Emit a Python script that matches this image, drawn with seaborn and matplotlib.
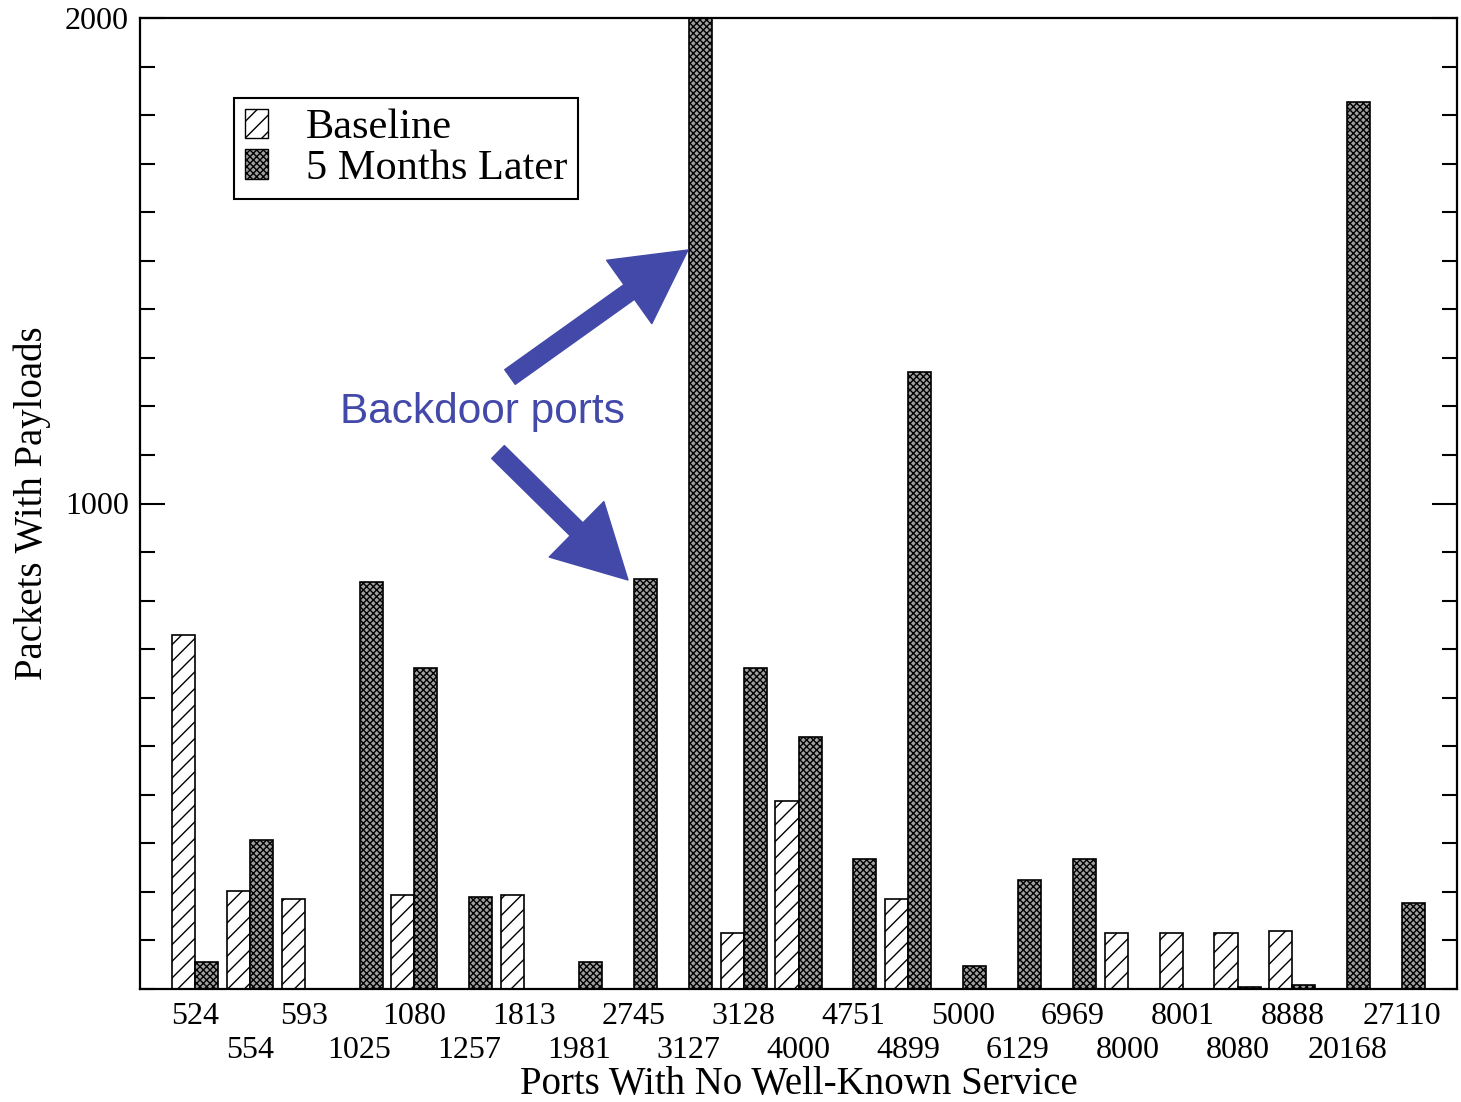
import numpy as np
import pandas as pd
import matplotlib
matplotlib.use('Agg')
import matplotlib.pyplot as plt
import matplotlib.patches as mpatches
from matplotlib.ticker import MultipleLocator
import seaborn as sns

ports = ['524', '554', '593', '1025', '1080', '1257', '1813', '1981', '2745',
         '3127', '3128', '4000', '4751', '4899', '5000', '6129', '6969',
         '8000', '8001', '8080', '8888', '20168', '27110']
baseline = [729, 202, 185, 0, 194, 0, 194, 0, 0,
            0, 115, 387, 0, 185, 0, 0, 0,
            115, 115, 115, 119, 0, 0]
later = [56, 307, 0, 838, 661, 190, 0, 56, 844,
         2000, 661, 519, 268, 1271, 47, 225, 268,
         0, 0, 4, 8, 1827, 177]
series = ['Baseline', '5 Months Later']

df = pd.DataFrame({
    'port': ports * 2,
    'packets': baseline + later,
    'period': [series[0]] * len(ports) + [series[1]] * len(ports),
})

plt.rcParams['font.family'] = ['Liberation Serif', 'DejaVu Serif']
plt.rcParams['hatch.linewidth'] = 1.0

fig = plt.figure(figsize=(14.61, 11.02), dpi=100)
ax = fig.add_axes([140 / 1461, 1 - 989 / 1102, 1317 / 1461, 971 / 1102])

sns.barplot(data=df, x='port', y='packets', hue='period', order=ports,
            hue_order=series, width=0.84, ax=ax, legend=False)

dark = '#a0a0a0'
# baseline: white with diagonal hatching; later: dense gray checker
for bar in ax.containers[0]:
    bar.set_facecolor('white')
    bar.set_edgecolor('black')
    bar.set_hatch('//')
    bar.set_linewidth(1.2)
for bar in ax.containers[1]:
    bar.set_facecolor(dark)
    bar.set_edgecolor('black')
    bar.set_hatch('xxxxx')
    bar.set_linewidth(1.2)

ax.set_xlim(-1, len(ports))
ax.set_ylim(0, 2000)

# two staggered rows of port labels: even ones on major ticks, odd ones on minor ticks
idx = np.arange(len(ports))
ax.set_xticks(idx[::2])
ax.set_xticklabels(ports[::2], fontsize=23)
ax.set_xticks(idx[1::2], minor=True)
ax.set_xticklabels(ports[1::2], minor=True, fontsize=23)
ax.tick_params(axis='x', which='major', length=0, pad=9)
ax.tick_params(axis='x', which='minor', length=0, pad=34)

ax.set_yticks([1000, 2000])
ax.set_yticklabels(['1000', '2000'], fontsize=23)
ax.yaxis.set_minor_locator(MultipleLocator(100))
ax.tick_params(axis='y', which='major', direction='in', length=18, width=1.5,
               left=True, right=True, pad=8)
ax.tick_params(axis='y', which='minor', direction='in', length=11, width=1.5,
               left=True, right=True)

for s in ax.spines.values():
    s.set_linewidth(1.6)

ax.set_xlabel('Ports With No Well-Known Service', fontsize=28)
ax.xaxis.set_label_coords(0.5, -0.079)
ax.set_ylabel('Packets With Payloads', fontsize=28, labelpad=10)

handles = [mpatches.Patch(facecolor='white', edgecolor='black', hatch='//', label=series[0]),
           mpatches.Patch(facecolor=dark, edgecolor='black', hatch='xxxxx', label=series[1])]
leg = ax.legend(handles=handles, loc='upper left', bbox_to_anchor=(0.0714, 0.9176),
                fontsize=30.5, fancybox=False, edgecolor='black', framealpha=1,
                handlelength=0.55, handleheight=0.7, handletextpad=0.9,
                labelspacing=0.05, borderpad=0.25, borderaxespad=0)
leg.get_frame().set_linewidth(1.5)

blue = '#4349a8'
fig.text(340 / 1461, 1 - 412 / 1102, 'Backdoor ports', color=blue, fontsize=30.5,
         family=['Liberation Sans', 'DejaVu Sans'], va='center', ha='left')
arrow_style = 'simple,head_length=5.2,head_width=5.6,tail_width=1.3'
ax.annotate('', xy=(688 / 1461, 1 - 250 / 1102), xycoords='figure fraction',
            xytext=(510 / 1461, 1 - 377 / 1102), textcoords='figure fraction',
            arrowprops=dict(arrowstyle=arrow_style, mutation_scale=10, color=blue,
                            shrinkA=0, shrinkB=0))
ax.annotate('', xy=(628 / 1461, 1 - 580 / 1102), xycoords='figure fraction',
            xytext=(498 / 1461, 1 - 452 / 1102), textcoords='figure fraction',
            arrowprops=dict(arrowstyle=arrow_style, mutation_scale=10, color=blue,
                            shrinkA=0, shrinkB=0))

fig.savefig('out.png', dpi=100)
